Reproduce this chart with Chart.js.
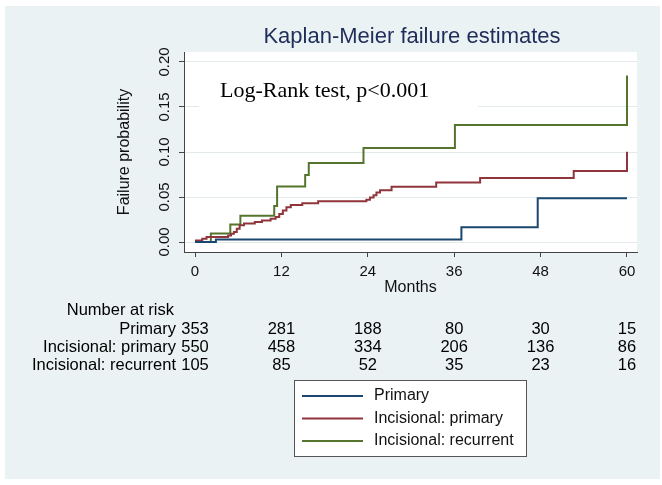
<!DOCTYPE html>
<html>
<head>
<meta charset="utf-8">
<script src="https://cdn.jsdelivr.net/npm/chart.js@4.4.1/dist/chart.umd.min.js"></script>
<style>
  html, body { margin: 0; padding: 0; background: #fff; }
</style>
</head>
<body>
<canvas id="km" width="662" height="485"></canvas>
<script>
// axis ticks
const monthTicks = [0, 12, 24, 36, 48, 60];
const probTicks = [0, 0.05, 0.10, 0.15, 0.20];

const seriesNames = ['Primary', 'Incisional: primary', 'Incisional: recurrent'];
const seriesColors = ['#1a476f', '#90353b', '#55752f'];

// Kaplan-Meier failure steps (month where the step starts, failure from there on)
const primaryMonths = [0, 2.9, 37.0, 47.6, 60];
const primaryFail = [0, 0.0028, 0.0163, 0.0485, 0.0485];

const incPrimaryMonths = [0, 1.0, 1.6, 4.6, 5.0, 5.4, 5.8, 6.2, 6.8, 8.3, 9.3, 10.5, 11.2, 11.7, 12.2, 12.7, 13.3,
  14.9, 17.1, 23.8, 24.3, 24.8, 25.2, 25.7, 27.3, 33.5, 39.6, 52.6, 60, 60];
const incPrimaryFail = [0.0018, 0.0036, 0.0055, 0.0073, 0.0091, 0.011, 0.0148, 0.0185, 0.0205, 0.0222, 0.024, 0.0258,
  0.0277, 0.031, 0.035, 0.0385, 0.041, 0.043, 0.0452, 0.047, 0.0495, 0.052, 0.055, 0.0575, 0.0615, 0.066, 0.071,
  0.079, 0.079, 0.1004];

const incRecurrentMonths = [0, 2.2, 4.9, 6.3, 11.0, 11.4, 15.3, 15.8, 23.4, 36.1, 60, 60];
const incRecurrentFail = [0, 0.0095, 0.0195, 0.0293, 0.040, 0.0618, 0.0744, 0.0878, 0.1045, 0.130, 0.130, 0.185];

// number at risk at each month tick
const riskPrimary = [353, 281, 188, 80, 30, 15];
const riskIncPrimary = [550, 458, 334, 206, 136, 86];
const riskIncRecurrent = [105, 85, 52, 35, 23, 16];

const sans = '"Liberation Sans", Arial, sans-serif';
const serif = '"Liberation Serif", "Times New Roman", serif';

function toPoints(months, fail) {
    return months.map((m, i) => ({ x: m, y: fail[i] }));
}

function makeSet(idx, months, fail) {
    return {
        label: seriesNames[idx],
        data: toPoints(months, fail),
        borderColor: seriesColors[idx],
        backgroundColor: seriesColors[idx],
        borderWidth: 2,
        pointRadius: 0,
        stepped: true,
        fill: false
    };
}

// backgrounds, annotation, title, y tick labels, risk table and legend
const stataLook = {
    id: 'stataLook',
    beforeDraw(chart) {
        const ctx = chart.ctx;
        const a = chart.chartArea;
        ctx.save();
        ctx.fillStyle = '#ffffff';
        ctx.fillRect(0, 0, chart.width, chart.height);
        ctx.fillStyle = '#eaf2f3';
        ctx.fillRect(5, 6, 655, 473);
        ctx.fillStyle = '#ffffff';
        ctx.fillRect(a.left, a.top, a.right - a.left, a.bottom - a.top);
        ctx.restore();
    },
    beforeDatasetsDraw(chart) {
        const ctx = chart.ctx;
        ctx.save();
        ctx.fillStyle = '#ffffff';
        ctx.fillRect(199, 69, 279, 44);
        ctx.fillStyle = '#000';
        ctx.font = '22px ' + serif;
        ctx.textAlign = 'left';
        ctx.textBaseline = 'middle';
        ctx.fillText('Log-Rank test, p<0.001', 220, 91);
        ctx.restore();
    },
    afterDraw(chart) {
        const ctx = chart.ctx;
        const xs = chart.scales.x;
        const ys = chart.scales.y;
        ctx.save();

        // title
        ctx.fillStyle = '#1f2d5a';
        ctx.font = '22px ' + sans;
        ctx.textAlign = 'center';
        ctx.textBaseline = 'middle';
        ctx.fillText('Kaplan-Meier failure estimates', 412, 37);

        // rotated y tick labels
        ctx.fillStyle = '#111';
        ctx.font = '15px ' + sans;
        ys.ticks.forEach((t) => {
            const y = ys.getPixelForValue(t.value);
            ctx.save();
            ctx.translate(165, y);
            ctx.rotate(-Math.PI / 2);
            ctx.fillText(t.value.toFixed(2), 0, 0);
            ctx.restore();
        });

        // number at risk
        ctx.font = '16.5px ' + sans;
        ctx.fillStyle = '#000';
        ctx.textAlign = 'right';
        ctx.fillText('Number at risk', 174, 310);
        const rows = [riskPrimary, riskIncPrimary, riskIncRecurrent];
        const rowY = [329, 347, 365];
        rows.forEach((row, r) => {
            ctx.textAlign = 'right';
            ctx.fillText(seriesNames[r], 176, rowY[r]);
            ctx.textAlign = 'center';
            row.forEach((n, i) => {
                ctx.fillText(String(n), xs.getPixelForValue(monthTicks[i]), rowY[r]);
            });
        });

        // legend
        ctx.fillStyle = '#ffffff';
        ctx.fillRect(294, 380, 233, 77);
        ctx.strokeStyle = '#555';
        ctx.lineWidth = 1;
        ctx.strokeRect(294.5, 380.5, 232, 76);
        const legY = [396, 418.5, 441];
        ctx.font = '16px ' + sans;
        ctx.textAlign = 'left';
        seriesNames.forEach((name, i) => {
            ctx.strokeStyle = seriesColors[i];
            ctx.lineWidth = 2;
            ctx.beginPath();
            ctx.moveTo(302, legY[i]);
            ctx.lineTo(363, legY[i]);
            ctx.stroke();
            ctx.fillStyle = '#111';
            ctx.fillText(name, 374, legY[i]);
        });
        ctx.restore();
    }
};

Chart.defaults.font.family = sans;
Chart.defaults.color = '#111';

new Chart(document.getElementById('km'), {
    type: 'line',
    data: {
        datasets: [
            makeSet(0, primaryMonths, primaryFail),
            makeSet(1, incPrimaryMonths, incPrimaryFail),
            makeSet(2, incRecurrentMonths, incRecurrentFail)
        ]
    },
    options: {
        responsive: false,
        animation: false,
        events: [],
        layout: { padding: { left: 0, top: 52, right: 25, bottom: 183 } },
        plugins: {
            legend: { display: false },
            title: { display: false },
            tooltip: { enabled: false }
        },
        scales: {
            x: {
                type: 'linear',
                min: -1.53,
                max: 61.39,
                afterBuildTicks: (scale) => {
                    scale.ticks = monthTicks.map(v => ({ value: v }));
                },
                afterFit: (scale) => { scale.height = 50; },
                ticks: {
                    font: { size: 15 },
                    color: '#111',
                    padding: 6,
                    maxRotation: 0,
                    autoSkip: false,
                    callback: (v) => String(v)
                },
                grid: {
                    drawOnChartArea: false,
                    drawTicks: true,
                    tickLength: 5,
                    tickColor: '#444'
                },
                border: { display: true, color: '#444', width: 1 },
                title: {
                    display: true,
                    text: 'Months',
                    font: { size: 16 },
                    color: '#111',
                    padding: { top: 0, bottom: 4.4 }
                }
            },
            y: {
                type: 'linear',
                min: -0.0111,
                max: 0.2111,
                afterBuildTicks: (scale) => {
                    scale.ticks = probTicks.map(v => ({ value: v }));
                },
                afterFit: (scale) => { scale.width = 184; },
                ticks: {
                    font: { size: 15 },
                    color: 'rgba(0,0,0,0)',
                    callback: (v) => v.toFixed(2)
                },
                grid: {
                    color: '#e2eaec',
                    lineWidth: 1,
                    drawTicks: true,
                    tickLength: 5,
                    tickColor: '#444'
                },
                border: { display: true, color: '#444', width: 1 },
                title: {
                    display: true,
                    text: 'Failure probability',
                    font: { size: 16 },
                    color: '#111',
                    padding: { top: 115.4, bottom: 0 }
                }
            }
        }
    },
    plugins: [stataLook]
});
</script>
</body>
</html>
